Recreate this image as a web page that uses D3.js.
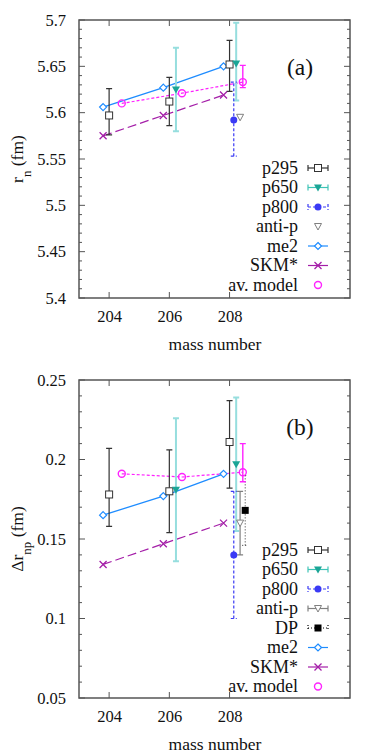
<!DOCTYPE html>
<html>
<head>
<meta charset="utf-8">
<script src="https://cdn.jsdelivr.net/npm/d3@7"></script>
<style>
  body { margin: 0; background: #fff; }
  svg text { font-family: "Liberation Serif", "Times New Roman", "DejaVu Serif", serif !important; fill: #111; }
</style>
</head>
<body>
<div id="chart"></div>
<script>
// tick labels
var massTicks = [204, 206, 208];
var rnTicks = [5.4, 5.45, 5.5, 5.55, 5.6, 5.65, 5.7];
var drTicks = [0.05, 0.1, 0.15, 0.2, 0.25];

// panel (a): neutron radius r_n (fm)
var rnP295 = [
  {m: 204, v: 5.597, lo: 5.576, hi: 5.626},
  {m: 206, v: 5.612, lo: 5.586, hi: 5.638},
  {m: 208, v: 5.652, lo: 5.623, hi: 5.678}
];
var rnP650 = [
  {m: 206.22, v: 5.625, lo: 5.58, hi: 5.67},
  {m: 208.22, v: 5.653, lo: 5.613, hi: 5.697}
];
var rnP800 = [{m: 208.14, v: 5.592, lo: 5.553, hi: 5.633}];
var rnAntiP = [{m: 208.35, v: 5.595}];
var rnMe2 = [{m: 203.8, v: 5.606}, {m: 205.8, v: 5.627}, {m: 207.8, v: 5.65}];
var rnSkm = [{m: 203.8, v: 5.575}, {m: 205.8, v: 5.597}, {m: 207.8, v: 5.619}];
var rnAv = [{m: 204.42, v: 5.61}, {m: 206.42, v: 5.621}, {m: 208.44, v: 5.633, lo: 5.627, hi: 5.651}];

// panel (b): neutron skin Δr_np (fm)
var drP295 = [
  {m: 204, v: 0.178, lo: 0.158, hi: 0.207},
  {m: 206, v: 0.18, lo: 0.154, hi: 0.206},
  {m: 208, v: 0.211, lo: 0.182, hi: 0.237}
];
var drP650 = [
  {m: 206.22, v: 0.181, lo: 0.136, hi: 0.226},
  {m: 208.22, v: 0.197, lo: 0.155, hi: 0.239}
];
var drP800 = [{m: 208.14, v: 0.14, lo: 0.1, hi: 0.18}];
var drAntiP = [{m: 208.35, v: 0.16, lo: 0.14, hi: 0.18}];
var drDP = [{m: 208.52, v: 0.168, lo: 0.146, hi: 0.19}];
var drMe2 = [{m: 203.8, v: 0.165}, {m: 205.8, v: 0.177}, {m: 207.8, v: 0.191}];
var drSkm = [{m: 203.8, v: 0.134}, {m: 205.8, v: 0.147}, {m: 207.8, v: 0.16}];
var drAv = [{m: 204.42, v: 0.191}, {m: 206.42, v: 0.189}, {m: 208.44, v: 0.192, lo: 0.186, hi: 0.21}];

var W = 382, H = 756;
var FONT = "'Liberation Serif', 'Times New Roman', 'DejaVu Serif', serif";
var svg = d3.select("#chart").append("svg").attr("width", W).attr("height", H);

var C = {
  p295: "#333333", p650bar: "#96dede", p650: "#1aa596", p650leg: "#3ec4b6",
  p800: "#3a3af5", anti: "#808080", dp: "#000000",
  me2: "#1e8cff", skm: "#a41ea8", av: "#ff22ff", frame: "#555555"
};

// marker drawing
function marker(g, type, x, y, col) {
  if (type == "square") {
    g.append("rect").attr("x", x - 3.5).attr("y", y - 3.5).attr("width", 7).attr("height", 7)
      .attr("fill", "#fff").attr("stroke", col).attr("stroke-width", 1);
  } else if (type == "fsquare") {
    g.append("rect").attr("x", x - 3.5).attr("y", y - 3.5).attr("width", 7).attr("height", 7).attr("fill", col);
  } else if (type == "ftri") {
    g.append("path").attr("d", "M" + (x - 4) + "," + (y - 3) + "L" + (x + 4) + "," + (y - 3) + "L" + x + "," + (y + 4) + "Z").attr("fill", col);
  } else if (type == "tri") {
    g.append("path").attr("d", "M" + (x - 3.5) + "," + (y - 3) + "L" + (x + 3.5) + "," + (y - 3) + "L" + x + "," + (y + 3.5) + "Z")
      .attr("fill", "#fff").attr("stroke", col).attr("stroke-width", 1);
  } else if (type == "fcircle") {
    g.append("circle").attr("cx", x).attr("cy", y).attr("r", 3.5).attr("fill", col);
  } else if (type == "circle") {
    g.append("circle").attr("cx", x).attr("cy", y).attr("r", 3.5).attr("fill", "none").attr("stroke", col).attr("stroke-width", 1.4);
  } else if (type == "diamond") {
    g.append("path").attr("d", "M" + x + "," + (y - 3.5) + "L" + (x + 3.5) + "," + y + "L" + x + "," + (y + 3.5) + "L" + (x - 3.5) + "," + y + "Z")
      .attr("fill", "#fff").attr("stroke", col).attr("stroke-width", 1.2);
  } else if (type == "cross") {
    g.append("path").attr("d", "M" + (x - 3.5) + "," + (y - 3.5) + "L" + (x + 3.5) + "," + (y + 3.5) + "M" + (x - 3.5) + "," + (y + 3.5) + "L" + (x + 3.5) + "," + (y - 3.5))
      .attr("stroke", col).attr("stroke-width", 1.3);
  }
}

function errbar(g, x, y1, y2, col, w, dash) {
  var cap = 3;
  g.append("path")
    .attr("d", "M" + x + "," + y1 + "L" + x + "," + y2 + "M" + (x - cap) + "," + y1 + "L" + (x + cap) + "," + y1 + "M" + (x - cap) + "," + y2 + "L" + (x + cap) + "," + y2)
    .attr("stroke", col).attr("stroke-width", w).attr("fill", "none")
    .attr("stroke-dasharray", dash || null);
}

function drawPanel(cfg) {
  var x = d3.scaleLinear().domain([203, 212]).range([79, 350]);
  var y = d3.scaleLinear().domain(cfg.ydom).range([cfg.bottom, cfg.top]);
  var g = svg.append("g");

  // minor ticks
  var minors = d3.range(cfg.ydom[0], cfg.ydom[1] + 1e-9, cfg.minor);
  minors.forEach(function(v) {
    var yy = y(v);
    var major = cfg.yticks.some(function(t) { return Math.abs(t - v) < 1e-6; });
    var len = major ? 6 : 3;
    g.append("line").attr("x1", 79).attr("x2", 79 + len).attr("y1", yy).attr("y2", yy).attr("stroke", C.frame);
    g.append("line").attr("x1", 350).attr("x2", 350 - len).attr("y1", yy).attr("y2", yy).attr("stroke", C.frame);
  });

  var yAxis = d3.axisLeft(y).tickValues(cfg.yticks).tickSize(0).tickPadding(13)
    .tickFormat(function(d) { return String(+d.toFixed(2)); });
  var ya = g.append("g").attr("transform", "translate(79,0)").call(yAxis);
  ya.attr("font-family", FONT);
  ya.select(".domain").remove();
  ya.selectAll("text").style("font-size", "16.5px").style("font-family", FONT).attr("fill", "#111");

  var xAxis = d3.axisBottom(x).tickValues(massTicks).tickSize(0).tickPadding(12).tickFormat(d3.format("d"));
  var xa = g.append("g").attr("transform", "translate(0," + cfg.bottom + ")").call(xAxis);
  xa.attr("font-family", FONT);
  xa.select(".domain").remove();
  xa.selectAll("text").style("font-size", "16.5px").style("font-family", FONT).attr("fill", "#111");

  massTicks.forEach(function(m) {
    g.append("line").attr("x1", x(m)).attr("x2", x(m)).attr("y1", cfg.bottom).attr("y2", cfg.bottom - 6).attr("stroke", C.frame);
    g.append("line").attr("x1", x(m)).attr("x2", x(m)).attr("y1", cfg.top).attr("y2", cfg.top + 6).attr("stroke", C.frame);
  });

  g.append("rect").attr("x", 79).attr("y", cfg.top).attr("width", 271).attr("height", cfg.bottom - cfg.top)
    .attr("fill", "none").attr("stroke", C.frame).attr("stroke-width", 1.5);

  g.append("text").attr("x", 215).attr("y", cfg.bottom + 52).attr("text-anchor", "middle")
    .style("font-size", "17.5px").style("font-family", FONT).text("mass number");

  var yl = g.append("text").attr("transform", "translate(23," + ((cfg.top + cfg.bottom) / 2) + ") rotate(-90)")
    .attr("text-anchor", "middle").style("font-size", "17.5px").style("font-family", FONT);
  yl.append("tspan").text(cfg.ylab[0]);
  yl.append("tspan").attr("baseline-shift", "sub").style("font-size", "13px").text(cfg.ylab[1]);
  yl.append("tspan").text(" (fm)");

  g.append("text").attr("x", 300).attr("y", cfg.top + 55).attr("text-anchor", "middle")
    .style("font-size", "23.5px").style("font-family", FONT).text(cfg.tag);

  var line = d3.line().x(function(d) { return x(d.m); }).y(function(d) { return y(d.v); });
  var dg = g.append("g");

  // model curves
  dg.append("path").datum(cfg.av).attr("d", line).attr("fill", "none").attr("stroke", C.av).attr("stroke-width", 1.2).attr("stroke-dasharray", "3,2");
  dg.append("path").datum(cfg.skm).attr("d", line).attr("fill", "none").attr("stroke", C.skm).attr("stroke-width", 1.2).attr("stroke-dasharray", "9,4");
  dg.append("path").datum(cfg.me2).attr("d", line).attr("fill", "none").attr("stroke", C.me2).attr("stroke-width", 1.3);

  // error bars
  cfg.p295.forEach(function(d) { errbar(dg, x(d.m), y(d.lo), y(d.hi), C.p295, 1.2); });
  cfg.p650.forEach(function(d) { errbar(dg, x(d.m), y(d.lo), y(d.hi), C.p650bar, 2); });
  cfg.p800.forEach(function(d) { errbar(dg, x(d.m), y(d.lo), y(d.hi), C.p800, 1.2, "3,2"); });
  if (cfg.anti[0].lo != null) cfg.anti.forEach(function(d) { errbar(dg, x(d.m), y(d.lo), y(d.hi), C.anti, 1.2); });
  if (cfg.dp) cfg.dp.forEach(function(d) { errbar(dg, x(d.m), y(d.lo), y(d.hi), "#333", 1, "1,2"); });
  cfg.av.forEach(function(d) { if (d.lo != null) errbar(dg, x(d.m), y(d.lo), y(d.hi), C.av, 1.4); });

  // markers
  cfg.me2.forEach(function(d) { marker(dg, "diamond", x(d.m), y(d.v), C.me2); });
  cfg.skm.forEach(function(d) { marker(dg, "cross", x(d.m), y(d.v), C.skm); });
  cfg.av.forEach(function(d) { marker(dg, "circle", x(d.m), y(d.v), C.av); });
  cfg.p295.forEach(function(d) { marker(dg, "square", x(d.m), y(d.v), C.p295); });
  cfg.p650.forEach(function(d) { marker(dg, "ftri", x(d.m), y(d.v), C.p650); });
  cfg.p800.forEach(function(d) { marker(dg, "fcircle", x(d.m), y(d.v), C.p800); });
  cfg.anti.forEach(function(d) { marker(dg, "tri", x(d.m), y(d.v), C.anti); });
  if (cfg.dp) cfg.dp.forEach(function(d) { marker(dg, "fsquare", x(d.m), y(d.v), "#000"); });

  // legend
  var lg = g.append("g");
  cfg.legend.forEach(function(e, i) {
    var ly = cfg.legY + i * 19.5;
    lg.append("text").attr("x", 298).attr("y", ly + 5.5).attr("text-anchor", "end")
      .style("font-size", "18px").style("font-family", FONT).text(e.name);
    if (e.bar || e.line) {
      lg.append("line").attr("x1", 308).attr("x2", 328).attr("y1", ly).attr("y2", ly)
        .attr("stroke", e.col).attr("stroke-width", e.w || 1.2).attr("stroke-dasharray", e.dash || null);
    }
    if (e.bar) {
      [308, 328].forEach(function(cx) {
        lg.append("line").attr("x1", cx).attr("x2", cx).attr("y1", ly - 3).attr("y2", ly + 3)
          .attr("stroke", e.col).attr("stroke-width", 1.2).attr("stroke-dasharray", e.dash || null);
      });
    }
    marker(lg, e.mk, 318, ly, e.mcol || e.col);
  });
}

drawPanel({
  ydom: [5.4, 5.7], top: 20, bottom: 298, yticks: rnTicks, minor: 0.01,
  ylab: ["r", "n"], tag: "(a)", legY: 168,
  p295: rnP295, p650: rnP650, p800: rnP800, anti: rnAntiP, me2: rnMe2, skm: rnSkm, av: rnAv,
  legend: [
    {name: "p295", bar: true, col: C.p295, mk: "square"},
    {name: "p650", bar: true, col: C.p650leg, mk: "ftri", mcol: C.p650},
    {name: "p800", bar: true, col: C.p800, dash: "3,2", mk: "fcircle"},
    {name: "anti-p", col: C.anti, mk: "tri"},
    {name: "me2", line: true, col: C.me2, mk: "diamond"},
    {name: "SKM*", line: true, col: C.skm, mk: "cross"},
    {name: "av. model", col: C.av, mk: "circle"}
  ]
});

drawPanel({
  ydom: [0.05, 0.25], top: 380, bottom: 698, yticks: drTicks, minor: 0.01,
  ylab: ["Δr", "np"], tag: "(b)", legY: 550,
  p295: drP295, p650: drP650, p800: drP800, anti: drAntiP, dp: drDP, me2: drMe2, skm: drSkm, av: drAv,
  legend: [
    {name: "p295", bar: true, col: C.p295, mk: "square"},
    {name: "p650", bar: true, col: C.p650leg, mk: "ftri", mcol: C.p650},
    {name: "p800", bar: true, col: C.p800, dash: "3,2", mk: "fcircle"},
    {name: "anti-p", bar: true, col: C.anti, mk: "tri"},
    {name: "DP", bar: true, col: "#000", dash: "1,2", mk: "fsquare"},
    {name: "me2", line: true, col: C.me2, mk: "diamond"},
    {name: "SKM*", line: true, col: C.skm, mk: "cross"},
    {name: "av. model", col: C.av, mk: "circle"}
  ]
});
</script>
</body>
</html>
